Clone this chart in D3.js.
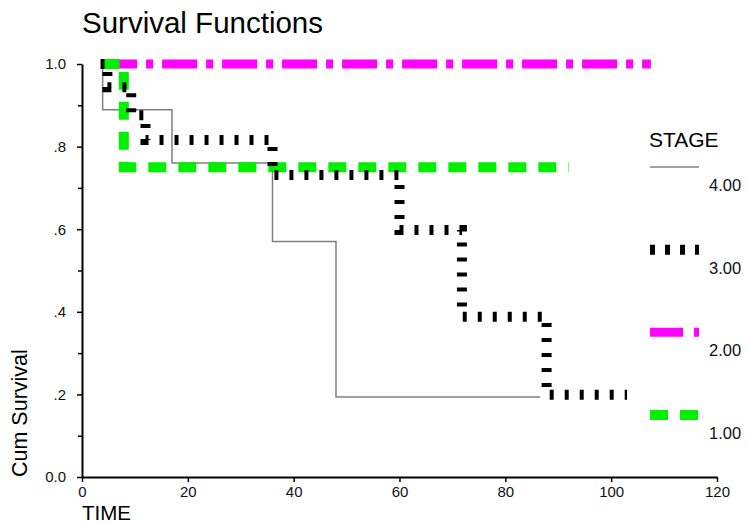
<!DOCTYPE html>
<html>
<head>
<meta charset="utf-8">
<script src="https://cdn.jsdelivr.net/npm/d3@7"></script>
<style>
  body { margin: 0; background: #fff; }
  svg { display: block; font-family: "Liberation Sans", Arial, sans-serif; }
</style>
</head>
<body>
<svg id="chart" width="747" height="523"></svg>
<script>
// Kaplan-Meier step curves
const stages = ["4.00", "3.00", "2.00", "1.00"];

const stage4Time = [3.6, 3.9, 17, 36, 48, 86.6];
const stage4Surv = [1.0, 0.889, 0.76, 0.57, 0.194, 0.194];

const stage3Time = [3.5, 4.8, 9.3, 12, 36, 60, 71.8, 87.8, 103];
const stage3Surv = [1.0, 0.944, 0.876, 0.816, 0.731, 0.598, 0.388, 0.199, 0.199];

const stage2Time = [3.8, 107.5];
const stage2Surv = [1.0, 1.0];

const stage1Time = [3.7, 7.9, 92];
const stage1Surv = [1.0, 0.75, 0.75];

const xTicks = [0, 20, 40, 60, 80, 100, 120];
const yTicks = [0, 0.2, 0.4, 0.6, 0.8, 1.0];
const yMinor = [0.1, 0.3, 0.5, 0.7, 0.9];

const svg = d3.select('#chart');

const x = d3.scaleLinear().domain([0, 120]).range([82, 717]);
const y = d3.scaleLinear().domain([0, 1]).range([477, 64]);

// styles per stage (drawn gray, magenta, green, black so overlaps look right)
const styles = {
    "4.00": { stroke: '#808080', width: 1.5, dash: null },
    "3.00": { stroke: '#000', width: 10, dash: '4,11' },
    "2.00": { stroke: '#ff00ff', width: 9, dash: '35,9,7,9' },
    "1.00": { stroke: '#00f000', width: 10, dash: '18,12' }
};

const series = {
    "4.00": d3.zip(stage4Time, stage4Surv),
    "3.00": d3.zip(stage3Time, stage3Surv),
    "2.00": d3.zip(stage2Time, stage2Surv),
    "1.00": d3.zip(stage1Time, stage1Surv)
};

// title
svg.append('text')
    .attr('x', 82)
    .attr('y', 33)
    .style('font-size', '29.5px')
    .style('fill', '#000')
    .text('Survival Functions');

// axes
const fmtY = d => d === 0 ? '0.0' : d === 1 ? '1.0' : d3.format('.1f')(d).replace(/^0/, '');

svg.append('g')
    .attr('transform', 'translate(82,0)')
    .call(d3.axisLeft(y).tickValues(yTicks).tickFormat(fmtY).tickSize(5).tickSizeOuter(0).tickPadding(11));

svg.append('g')
    .attr('transform', 'translate(82,0)')
    .call(d3.axisLeft(y).tickValues(yMinor).tickFormat('').tickSize(4).tickSizeOuter(0))
    .select('.domain').remove();

svg.append('g')
    .attr('transform', 'translate(0,477)')
    .call(d3.axisBottom(x).tickValues(xTicks).tickSize(5).tickSizeOuter(0).tickPadding(4));

svg.selectAll('.domain').attr('stroke', '#000').attr('stroke-width', 2);
svg.selectAll('.tick line').attr('stroke', '#000').attr('stroke-width', 1.5);
svg.selectAll('.tick text')
    .style('font-size', '15px')
    .style('fill', '#111');

// axis titles
svg.append('text')
    .attr('transform', 'translate(27,477) rotate(-90)')
    .style('font-size', '21.5px')
    .style('fill', '#000')
    .text('Cum Survival');

svg.append('text')
    .attr('x', 82)
    .attr('y', 520)
    .style('font-size', '20.5px')
    .style('fill', '#000')
    .text('TIME');

// survival curves
const line = d3.line()
    .x(d => x(d[0]))
    .y(d => y(d[1]))
    .curve(d3.curveStepAfter);

const drawOrder = ["4.00", "2.00", "1.00", "3.00"];
drawOrder.forEach(k => {
    const s = styles[k];
    svg.append('path')
        .datum(series[k])
        .attr('d', line)
        .attr('fill', 'none')
        .attr('stroke', s.stroke)
        .attr('stroke-width', s.width)
        .attr('stroke-dasharray', s.dash);
});

// legend
const legend = svg.append('g');
legend.append('text')
    .attr('x', 649)
    .attr('y', 147)
    .style('font-size', '21px')
    .style('fill', '#000')
    .text('STAGE');

const legendY = d3.scalePoint().domain(stages).range([167, 415]);
stages.forEach(k => {
    const s = styles[k];
    legend.append('line')
        .attr('x1', 650).attr('x2', 699)
        .attr('y1', legendY(k)).attr('y2', legendY(k))
        .attr('stroke', s.stroke)
        .attr('stroke-width', s.width)
        .attr('stroke-dasharray', k === "3.00" ? '5,10' : k === "2.00" ? '33,11,6,11' : s.dash);
    legend.append('text')
        .attr('x', 709)
        .attr('y', legendY(k) + 24)
        .style('font-size', '16.5px')
        .style('fill', '#111')
        .text(k);
});
</script>
</body>
</html>
